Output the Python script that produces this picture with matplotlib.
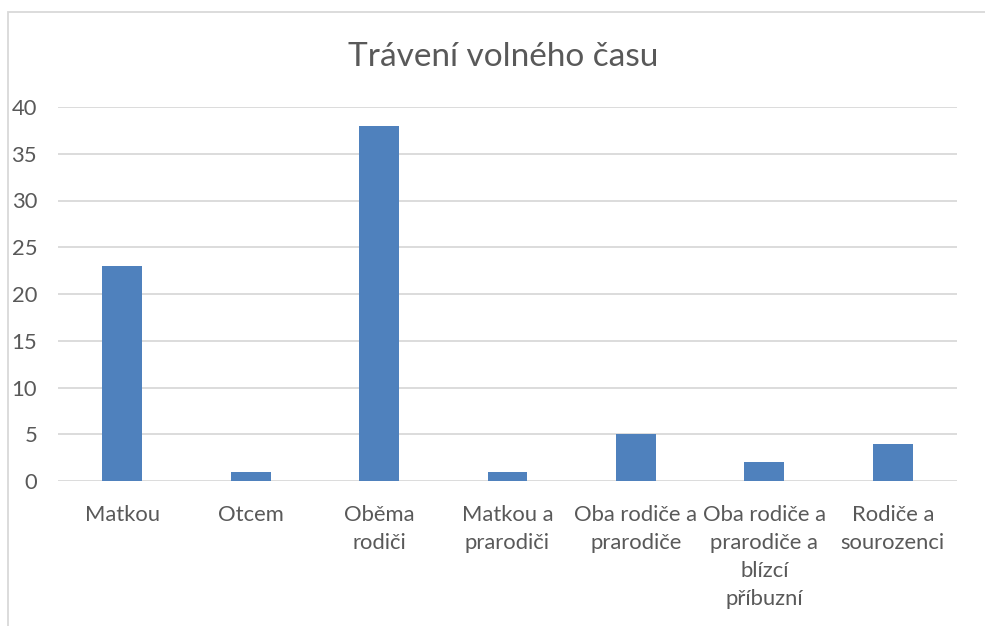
import matplotlib
matplotlib.use("Agg")
import matplotlib.pyplot as plt
from matplotlib.patches import Rectangle

categories = ["Matkou", "Otcem", "Oběma\nrodiči", "Matkou a\nprarodiči",
              "Oba rodiče a\nprarodiče", "Oba rodiče a\nprarodiče a\nblízcí\npříbuzní",
              "Rodiče a\nsourozenci"]
values = [23, 1, 38, 1, 5, 2, 4]
yticks = [0, 5, 10, 15, 20, 25, 30, 35, 40]

plt.rcParams['font.family'] = ['Lato', 'DejaVu Sans']
W, H = 985, 626
fig = plt.figure(figsize=(W/100, H/100), dpi=100)
ax = fig.add_axes([58/W, 1-481/H, (957-58)/W, (481-107)/H])

x = list(range(len(categories)))
ax.bar(x, values, width=0.31, color="#4F81BD", zorder=3)
ax.set_xlim(-0.5, len(categories)-0.5)
ax.set_ylim(0, 40)
ax.set_yticks(yticks)
ax.set_xticks(x)
ax.set_xticklabels(categories, linespacing=1.5)
ax.grid(axis='y', color="#D9D9D9", linewidth=1.3, zorder=0)
for s in ax.spines.values():
    s.set_visible(False)
ax.tick_params(axis='both', length=0, colors="#595959", labelsize=15.8)
ax.tick_params(axis='x', pad=17)
ax.tick_params(axis='y', pad=15)

fig.text(503/W, 1-57/H, "Trávení volného času", ha='center', va='center',
         fontsize=24, color="#595959")

fig.patches.append(Rectangle((8/W, -0.1), 1.2, 1.1-12/H, transform=fig.transFigure,
                             fill=False, edgecolor="#D9D9D9", linewidth=1.3))

fig.savefig("out.png", dpi=100)
